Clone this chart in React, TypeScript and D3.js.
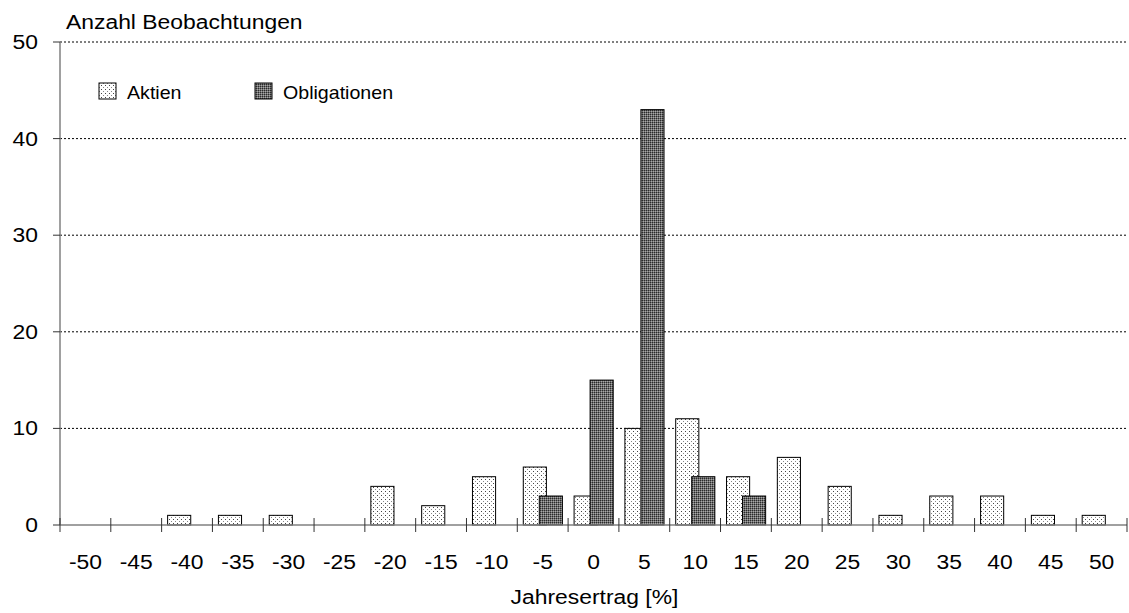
import React, { useEffect, useRef } from 'react';
import * as d3 from 'd3';

const categories = [-50, -45, -40, -35, -30, -25, -20, -15, -10, -5, 0, 5, 10, 15, 20, 25, 30, 35, 40, 45, 50];
const aktien = [0, 0, 1, 1, 1, 0, 4, 2, 5, 6, 3, 10, 11, 5, 7, 4, 1, 3, 3, 1, 1];
const obligationen = [0, 0, 0, 0, 0, 0, 0, 0, 0, 3, 15, 43, 5, 3, 0, 0, 0, 0, 0, 0, 0];
const yTicks = [0, 10, 20, 30, 40, 50];

const WIDTH = 1129;
const HEIGHT = 613;
const FONT = 'Liberation Sans, Arial, sans-serif';
const SX = 1.09; // the reference text is a little wider than Liberation Sans

export default function App() {
  const ref = useRef<SVGSVGElement>(null);

  useEffect(() => {
    const svg = d3.select(ref.current);
    svg.selectAll('*').remove();

    const margin = { top: 42, right: 2, bottom: 88, left: 60 };
    const width = WIDTH - margin.left - margin.right;
    const height = HEIGHT - margin.top - margin.bottom;

    const defs = svg.append('defs');
    const pA = defs.append('pattern').attr('id', 'patAktien')
      .attr('width', 4).attr('height', 4).attr('patternUnits', 'userSpaceOnUse');
    pA.append('rect').attr('width', 4).attr('height', 4).attr('fill', '#fff');
    pA.append('rect').attr('x', 1).attr('y', 1).attr('width', 1).attr('height', 1).attr('fill', '#444');
    pA.append('rect').attr('x', 3).attr('y', 3).attr('width', 1).attr('height', 1).attr('fill', '#888');

    const pO = defs.append('pattern').attr('id', 'patOblig')
      .attr('width', 2).attr('height', 2).attr('patternUnits', 'userSpaceOnUse');
    pO.append('rect').attr('width', 2).attr('height', 2).attr('fill', '#6e6e6e');
    pO.append('rect').attr('x', 0).attr('y', 0).attr('width', 1).attr('height', 1).attr('fill', '#2a2a2a');
    pO.append('rect').attr('x', 1).attr('y', 1).attr('width', 1).attr('height', 1).attr('fill', '#a8a8a8');

    const label = (sel: any, x: number, y: number, txt: string, anchor = 'start', size = 21) =>
      sel.append('text')
        .attr('transform', `translate(${x},${y}) scale(${SX},1)`)
        .attr('text-anchor', anchor)
        .attr('font-family', FONT).attr('font-size', size)
        .text(txt);

    const g = svg.append('g').attr('transform', `translate(${margin.left},${margin.top})`);

    const x = d3.scaleBand<number>().domain(categories).range([0, width]).paddingInner(0).paddingOuter(0);
    const y = d3.scaleLinear().domain([0, 50]).range([height, 0]);
    const bw = x.bandwidth();

    // gridlines
    g.selectAll('line.grid')
      .data(yTicks.filter(t => t > 0))
      .enter().append('line')
      .attr('class', 'grid')
      .attr('x1', 0).attr('x2', width)
      .attr('y1', d => y(d)).attr('y2', d => y(d))
      .attr('stroke', '#000').attr('stroke-width', 1).attr('stroke-dasharray', '2,2');

    // bars
    const aData = categories.map((c, i) => ({ c, v: aktien[i] })).filter(d => d.v > 0);
    const oData = categories.map((c, i) => ({ c, v: obligationen[i] })).filter(d => d.v > 0);

    g.selectAll('rect.aktien')
      .data(aData)
      .enter().append('rect')
      .attr('class', 'aktien')
      .attr('x', d => (x(d.c) as number) + bw * 0.118)
      .attr('y', d => y(d.v))
      .attr('width', bw * 0.455)
      .attr('height', d => y(0) - y(d.v))
      .attr('fill', 'url(#patAktien)')
      .attr('stroke', '#000').attr('stroke-width', 1);

    g.selectAll('rect.oblig')
      .data(oData)
      .enter().append('rect')
      .attr('class', 'oblig')
      .attr('x', d => (x(d.c) as number) + bw * 0.433)
      .attr('y', d => y(d.v))
      .attr('width', bw * 0.455)
      .attr('height', d => y(0) - y(d.v))
      .attr('fill', 'url(#patOblig)')
      .attr('stroke', '#000').attr('stroke-width', 1);

    // axes lines
    g.append('line').attr('x1', 0).attr('x2', 0).attr('y1', 0).attr('y2', height)
      .attr('stroke', '#808080').attr('stroke-width', 1.5);
    g.append('line').attr('x1', 0).attr('x2', width).attr('y1', height).attr('y2', height)
      .attr('stroke', '#808080').attr('stroke-width', 1.5);

    // y ticks + labels
    g.selectAll('line.ytick')
      .data(yTicks)
      .enter().append('line')
      .attr('x1', -7).attr('x2', 0)
      .attr('y1', d => y(d)).attr('y2', d => y(d))
      .attr('stroke', '#333').attr('stroke-width', 1);
    yTicks.forEach(t => label(g, -22, y(t) + 7, String(t), 'end'));

    // x ticks (band boundaries) + labels
    const bounds = d3.range(categories.length + 1).map(i => i * bw);
    g.selectAll('line.xtick')
      .data(bounds)
      .enter().append('line')
      .attr('x1', d => d).attr('x2', d => d)
      .attr('y1', height - 7).attr('y2', height + 7)
      .attr('stroke', '#333').attr('stroke-width', 1);
    categories.forEach(c => label(g, (x(c) as number) + bw / 2, height + 44, String(c), 'middle'));

    // titles
    label(svg, 66, 29, 'Anzahl Beobachtungen');
    label(svg, margin.left + width / 2 + 1, 604, 'Jahresertrag [%]', 'middle');

    // legend
    const legend = [
      { label: 'Aktien', fill: 'url(#patAktien)', x: 99 },
      { label: 'Obligationen', fill: 'url(#patOblig)', x: 255 },
    ];
    const lg = svg.append('g');
    lg.selectAll('rect')
      .data(legend)
      .enter().append('rect')
      .attr('x', d => d.x).attr('y', 83)
      .attr('width', 17).attr('height', 16)
      .attr('fill', d => d.fill)
      .attr('stroke', '#000').attr('stroke-width', 1);
    legend.forEach(d => label(lg, d.x + 28, 99, d.label, 'start', 18));
  }, []);

  return (
    <svg
      ref={ref}
      width={WIDTH}
      height={HEIGHT}
      style={{ position: 'absolute', left: 0, top: 0, background: '#fff' }}
    />
  );
}
